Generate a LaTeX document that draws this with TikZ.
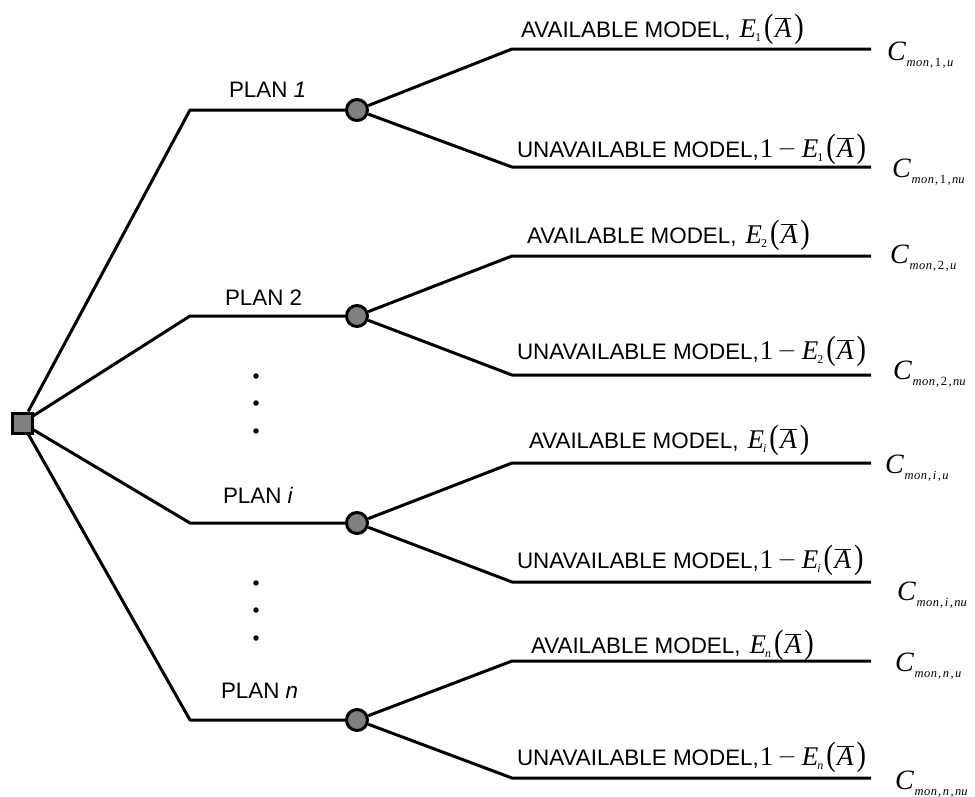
\documentclass[tikz,border=0pt]{standalone}
\usepackage{fontspec}
\usepackage{graphicx}
\setmainfont{Liberation Sans}
\newfontfamily\tms{Liberation Serif}
\newcommand{\tmi}[1]{{\tms\itshape #1}}
\newcommand{\lbl}[1]{{\fontsize{22.4}{24}\selectfont #1}}
\newcommand{\parL}{\scalebox{1.05}[1.25]{\tms(}}
\newcommand{\parR}{\scalebox{1.05}[1.25]{\tms)}}
\newcommand{\Ebar}[1]{{\fontsize{27}{30}\selectfont\tmi{E}\kern-1pt\raisebox{-4pt}{\fontsize{12}{12}\selectfont\tms #1}\kern3pt\parL\kern1.5pt$\overline{\hbox{\tmi{A}}}$\kern3pt\parR}}
\newcommand{\OneMinus}{{\fontsize{27}{30}\selectfont\tms\kern1pt 1\kern4pt\raisebox{1.5pt}{$-$}\kern5pt}}
\newcommand{\Cmon}[2]{{\fontsize{28}{30}\selectfont\tmi{C}}\kern1pt\raisebox{-6pt}{\fontsize{12.5}{12}\selectfont\tms\itshape m\kern0.5pt o\kern0.5pt n\kern1pt\upshape,\kern1.5pt#1\kern1.5pt\upshape,\kern1.5pt\itshape #2}}
\tikzset{
  br/.style={line width=3pt, line join=round},
  sqnode/.style={draw, line width=3pt, fill=black!50, minimum size=20pt, inner sep=0pt},
  chance/.style={circle, draw, line width=3pt, fill=black!50, minimum size=21pt, inner sep=0pt},
  txt/.style={anchor=base west, inner sep=0pt, outer sep=0pt},
  vdot/.style={circle, fill=black, minimum size=5.5pt, inner sep=0pt}
}
\begin{document}
\begin{tikzpicture}[x=1pt,y=-1pt]
\useasboundingbox (0,0) rectangle (975,796);
% decision node
\node[sqnode] (sq) at (22,423) {};
% plan ends and chance nodes
\coordinate (p1) at (190,110);
\coordinate (p2) at (190,316);
\coordinate (pi) at (190,523);
\coordinate (pn) at (190,720);
\node[chance] (c1) at (357,110) {};
\node[chance] (c2) at (357,316) {};
\node[chance] (ci) at (357,523) {};
\node[chance] (cn) at (357,720) {};
\draw[br] (sq) -- (p1) -- (c1);
\draw[br] (sq) -- (p2) -- (c2);
\draw[br] (sq) -- (pi) -- (ci);
\draw[br] (sq) -- (pn) -- (cn);
% plan labels
\node[txt] (l1) at (229,97) {\lbl{PLAN \textit{1}}};
\node[txt] (l2) at (225,305) {\lbl{PLAN 2}};
\node[txt] (li) at (223,503) {\lbl{PLAN \textit{i}}};
\node[txt] (ln) at (221,698) {\lbl{PLAN \textit{n}}};
% branch coordinates
\coordinate (a1s) at (512,49);  \coordinate (a1e) at (871,49);
\coordinate (u1s) at (512,167); \coordinate (u1e) at (871,167);
\coordinate (a2s) at (512,256); \coordinate (a2e) at (871,256);
\coordinate (u2s) at (512,375); \coordinate (u2e) at (871,375);
\coordinate (ais) at (512,463); \coordinate (aie) at (871,463);
\coordinate (uis) at (512,582); \coordinate (uie) at (871,582);
\coordinate (ans) at (512,661); \coordinate (ane) at (871,661);
\coordinate (uns) at (512,778); \coordinate (une) at (871,778);
\draw[br] (c1) -- (a1s) -- (a1e);
\draw[br] (c1) -- (u1s) -- (u1e);
\draw[br] (c2) -- (a2s) -- (a2e);
\draw[br] (c2) -- (u2s) -- (u2e);
\draw[br] (ci) -- (ais) -- (aie);
\draw[br] (ci) -- (uis) -- (uie);
\draw[br] (cn) -- (ans) -- (ane);
\draw[br] (cn) -- (uns) -- (une);
% branch labels
\node[txt] (ta1) at (521,37) {\lbl{AVAILABLE MODEL,}\hspace{9pt}\Ebar{1}};
\node[txt] (tu1) at (517,157) {\lbl{UNAVAILABLE MODEL,}\OneMinus\Ebar{1}};
\node[txt] (ta2) at (527,243) {\lbl{AVAILABLE MODEL,}\hspace{9pt}\Ebar{2}};
\node[txt] (tu2) at (517,359) {\lbl{UNAVAILABLE MODEL,}\OneMinus\Ebar{2}};
\node[txt] (tai) at (529,448) {\lbl{AVAILABLE MODEL,}\hspace{9pt}\Ebar{\itshape i}};
\node[txt] (tui) at (517,568) {\lbl{UNAVAILABLE MODEL,}\OneMinus\Ebar{\itshape i}};
\node[txt] (tan) at (531,653) {\lbl{AVAILABLE MODEL,}\hspace{9pt}\Ebar{\itshape n}};
\node[txt] (tun) at (517,765) {\lbl{UNAVAILABLE MODEL,}\OneMinus\Ebar{\itshape n}};
% outcome costs
\node[txt] (k1u) at (887,60) {\Cmon{\upshape 1}{u}};
\node[txt] (k1n) at (892,177) {\Cmon{\upshape 1}{nu}};
\node[txt] (k2u) at (890,263) {\Cmon{\upshape 2}{u}};
\node[txt] (k2n) at (893,379) {\Cmon{\upshape 2}{nu}};
\node[txt] (kiu) at (885,473) {\Cmon{\itshape i}{u}};
\node[txt] (kin) at (897,600) {\Cmon{\itshape i}{nu}};
\node[txt] (knu) at (895,671) {\Cmon{\itshape n}{u}};
\node[txt] (knn) at (895,789) {\Cmon{\itshape n}{nu}};
% ellipsis dots
\node[vdot] (d1) at (256,376) {};
\node[vdot] (d2) at (256,403) {};
\node[vdot] (d3) at (256,431) {};
\node[vdot] (d4) at (256,583) {};
\node[vdot] (d5) at (256,610) {};
\node[vdot] (d6) at (256,638) {};
\end{tikzpicture}
\end{document}
